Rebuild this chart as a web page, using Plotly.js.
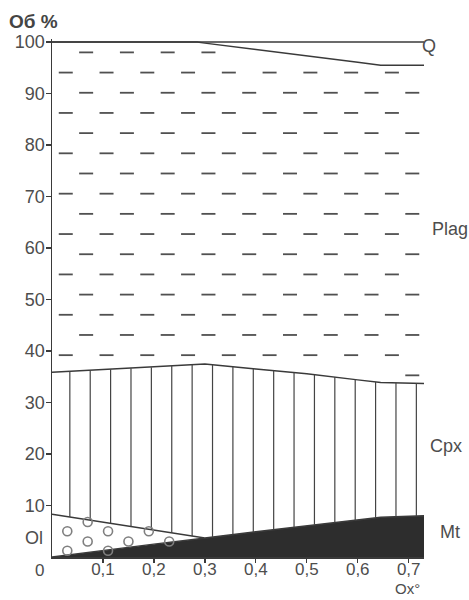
<!DOCTYPE html>
<html>
<head>
<meta charset="utf-8">
<script src="https://cdn.plot.ly/plotly-3.0.1.min.js"></script>
<style>html,body{margin:0;padding:0;background:#fff;}#chart{width:469px;height:600px;}</style>
</head>
<body>
<div id="chart"></div>
<script>
// Oxidation degree (x) and mineral volume percentages (stacked from bottom)
const ox   = [0, 0.1, 0.2, 0.285, 0.3, 0.4, 0.5, 0.6, 0.645, 0.73];
const mt   = [0, 1.3, 2.5, 3.5, 3.7, 4.9, 6.1, 7.2, 7.7, 8.0];
const ol   = [8.3, 5.5, 2.7, 0.4, 0, 0, 0, 0, 0, 0];
const cpx  = [27.6, 29.6, 31.7, 33.5, 33.8, 31.6, 29.5, 27.2, 26.2, 25.7];
const plag = [64.1, 63.6, 63.1, 62.6, 62.3, 62.1, 61.7, 61.7, 61.6, 61.8];
const q    = [0, 0, 0, 0, 0.2, 1.4, 2.7, 3.9, 4.5, 4.5];

const xTickVals = [0.1, 0.2, 0.3, 0.4, 0.5, 0.6, 0.7];
const xTickText = ['0,1', '0,2', '0,3', '0,4', '0,5', '0,6', '0,7'];
const yTickVals = [10, 20, 30, 40, 50, 60, 70, 80, 90, 100];
const yTickText = ['10', '20', '30', '40', '50', '60', '70', '80', '90', '100'];

// cumulative boundaries
const mtTop = mt.slice();
const olTop = mt.map((v, i) => v + ol[i]);
const cpxTop = olTop.map((v, i) => v + cpx[i]);
const plagTop = cpxTop.map((v, i) => v + plag[i]);

function interp(xs, ys, x) {
  if (x <= xs[0]) return ys[0];
  for (let i = 1; i < xs.length; i++) {
    if (x <= xs[i]) {
      const t = (x - xs[i - 1]) / (xs[i] - xs[i - 1]);
      return ys[i - 1] + t * (ys[i] - ys[i - 1]);
    }
  }
  return ys[ys.length - 1];
}

const LC = '#3a3a3a';
const lineStyle = {color: LC, width: 1.5};

const traces = [
  {x: ox, y: mt, stackgroup: 'a', mode: 'lines', line: lineStyle, fillcolor: '#2d2d2d', name: 'Mt'},
  {x: ox, y: ol, stackgroup: 'a', mode: 'lines', line: lineStyle, fillcolor: '#ffffff', name: 'Ol'},
  {x: ox, y: cpx, stackgroup: 'a', mode: 'lines', line: lineStyle, fillcolor: '#ffffff', name: 'Cpx'},
  {x: ox, y: plag, stackgroup: 'a', mode: 'lines', line: lineStyle, fillcolor: '#ffffff', name: 'Plag'},
  {x: ox, y: q, stackgroup: 'a', mode: 'lines', line: lineStyle, fillcolor: '#ffffff', name: 'Q'}
];

// Cpx hatch: vertical lines
const vx = [], vy = [];
for (let k = 0; k < 18; k++) {
  const x = 0.035 + 0.04 * k;
  vx.push(x, x, null);
  vy.push(interp(ox, olTop, x), interp(ox, cpxTop, x), null);
}
traces.push({x: vx, y: vy, mode: 'lines', line: {color: '#444', width: 1.2}, hoverinfo: 'skip'});

// Plag texture: short dashes
const dx = [], dy = [];
for (let i = 0; i < 17; i++) {
  const y = 98 - 3.92 * i;
  const x0 = (i % 2 === 0) ? 0.067 : 0.027;
  for (let x = x0; x < 0.725; x += 0.08) {
    if (y > interp(ox, cpxTop, x) + 1.2 && y < interp(ox, plagTop, x) - 0.9) {
      dx.push(x); dy.push(y);
    }
  }
}
traces.push({x: dx, y: dy, mode: 'markers', marker: {symbol: 'line-ew', size: 10, line: {color: '#505050', width: 1.8}}, hoverinfo: 'skip'});

// Ol texture: open circles
const cxs = [], cys = [];
for (let k = 0; k < 8; k++) {
  const x = 0.03 + 0.04 * k;
  const rows = (k % 2 === 0) ? [1.2, 5.0] : [3.0, 6.8];
  rows.forEach(y => {
    if (x < 0.3 && y > interp(ox, mtTop, x) - 0.5 && y < interp(ox, olTop, x) + 0.5) {
      cxs.push(x); cys.push(y);
    }
  });
}
traces.push({x: cxs, y: cys, mode: 'markers', cliponaxis: false, marker: {symbol: 'circle-open', size: 9, line: {color: '#3a3a3a', width: 1.6}}, hoverinfo: 'skip'});

const F = 'Liberation Sans, Arial, sans-serif';
const TC = '#4d4d4d';
function ann(text, x, y, xanchor, extra) {
  return Object.assign({text: text, x: x, y: y, xref: 'paper', yref: 'paper', showarrow: false,
    xanchor: xanchor, yanchor: 'middle', font: {family: F, size: 18, color: TC}}, extra || {});
}

const layout = {
  width: 469, height: 600,
  margin: {l: 52, r: 45, t: 39, b: 43},
  paper_bgcolor: '#ffffff', plot_bgcolor: '#ffffff',
  showlegend: false,
  font: {family: F, size: 18, color: TC},
  xaxis: {
    range: [0, 0.73], showgrid: false, zeroline: false,
    showline: true, linecolor: LC, linewidth: 1.5,
    ticks: 'outside', ticklen: 4, tickwidth: 1.3, tickcolor: LC,
    ticklabelstandoff: -8,
    tickvals: xTickVals, ticktext: xTickText,
    tickfont: {family: F, size: 17, color: TC}
  },
  yaxis: {
    range: [0, 100.6], showgrid: false, zeroline: false,
    showline: true, linecolor: LC, linewidth: 1.5,
    ticks: 'outside', ticklen: 5, tickwidth: 1.3, tickcolor: LC,
    ticklabelstandoff: -3,
    tickvals: yTickVals, ticktext: yTickText,
    tickfont: {family: F, size: 18, color: TC}
  },
  annotations: [
    ann('<b>Об %</b>', -0.0484, 1.0347, 'center', {font: {family: F, size: 19, color: '#444'}}),
    ann('Q', 0.989, 0.9865, 'left'),
    ann('Plag', 1.016, 0.633, 'left'),
    ann('Cpx', 1.011, 0.214, 'left'),
    ann('Mt', 1.038, 0.0483, 'left'),
    ann('Ol', -0.0484, 0.0367, 'center'),
    ann('0', -0.0323, -0.0255, 'center', {font: {family: F, size: 17, color: TC}}),
    ann('Ox°', 0.955, -0.0806, 'center', {yanchor: 'bottom', font: {family: F, size: 15, color: TC}})
  ]
};

Plotly.newPlot('chart', traces, layout, {displayModeBar: false, staticPlot: true});
</script>
</body>
</html>
